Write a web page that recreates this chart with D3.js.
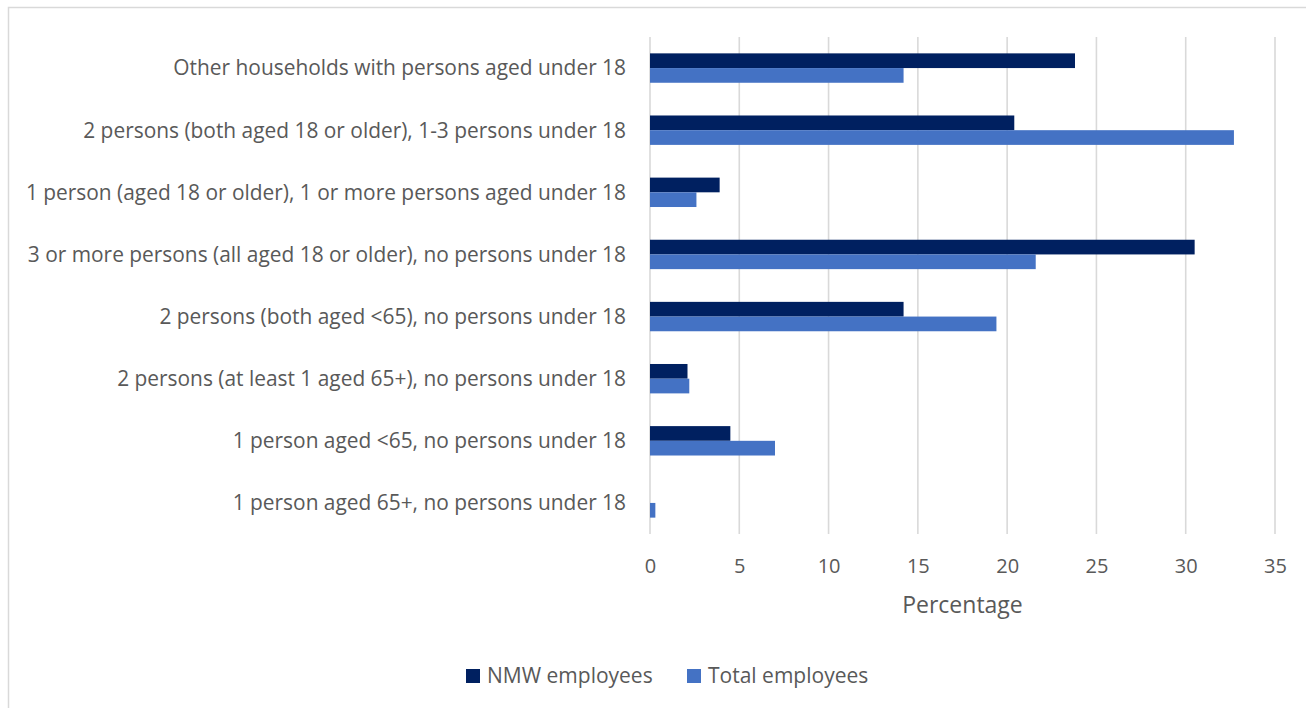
<!DOCTYPE html>
<html>
<head>
<meta charset="utf-8">
<script src="https://cdn.jsdelivr.net/npm/d3@7"></script>
<style>
  html, body { margin: 0; padding: 0; background: #fff; }
  svg { display: block; }
  text { font-family: "Open Sans", "Noto Sans", sans-serif; fill: #595959; }
</style>
</head>
<body>
<svg id="chart" width="1306" height="708"></svg>
<script>
// Household types, top to bottom
const categories = [
  "Other households with persons aged under 18",
  "2 persons (both aged 18 or older), 1-3 persons under 18",
  "1 person (aged 18 or older), 1 or more persons aged under 18",
  "3 or more persons (all aged 18 or older), no persons under 18",
  "2 persons (both aged <65), no persons under 18",
  "2 persons (at least 1 aged 65+), no persons under 18",
  "1 person aged <65, no persons under 18",
  "1 person aged 65+, no persons under 18"
];
const seriesNames = ["NMW employees", "Total employees"];
const nmwValues   = [23.8, 20.4, 3.9, 30.5, 14.2, 2.1, 4.5, 0.0];
const totalValues = [14.2, 32.7, 2.6, 21.6, 19.4, 2.2, 7.0, 0.3];
const xTicks = [0, 5, 10, 15, 20, 25, 30, 35];
const xTitle = "Percentage";
const colors = ["#002060", "#4472C4"];

const svg = d3.select("#chart");

// chart frame
svg.append("rect")
  .attr("x", 8.5).attr("y", 7.5)
  .attr("width", 1320).attr("height", 720)
  .attr("fill", "none").attr("stroke", "#d9d9d9").attr("stroke-width", 1.5);

const plot = { left: 650, right: 1275, top: 37, bottom: 534 };

const x = d3.scaleLinear().domain([0, 35]).range([plot.left, plot.right]);
const y = d3.scaleBand().domain(categories).range([plot.top, plot.bottom]).paddingInner(0).paddingOuter(0);
const barH = 14.7;

// vertical gridlines
svg.append("g").selectAll("line").data(xTicks).join("line")
  .attr("x1", d => x(d)).attr("x2", d => x(d))
  .attr("y1", plot.top).attr("y2", plot.bottom)
  .attr("stroke", "#d9d9d9").attr("stroke-width", 1.6);

// x axis tick labels
const xAxis = d3.axisBottom(x).tickValues(xTicks).tickSize(0).tickPadding(0);
const gx = svg.append("g").attr("transform", `translate(0,${566})`).call(xAxis);
gx.select(".domain").remove();
gx.selectAll("text")
  .attr("dy", "0.35em")
  .style("font-size", "20px")
  .style("font-family", '"Open Sans", sans-serif')
  .attr("fill", "#595959");

// axis title
svg.append("text")
  .attr("x", (plot.left + plot.right) / 2).attr("y", 605)
  .attr("dy", "0.35em")
  .attr("text-anchor", "middle")
  .style("font-size", "23px")
  .text(xTitle);

// category labels
svg.append("g").selectAll("text").data(categories).join("text")
  .attr("x", 626)
  .attr("y", d => y(d) + y.bandwidth() / 2)
  .attr("dy", "0.35em")
  .attr("text-anchor", "end")
  .style("font-size", "20.9px")
  .text(d => d);

// bars
const series = [nmwValues, totalValues];
series.forEach((vals, si) => {
  svg.append("g").selectAll("rect").data(vals).join("rect")
    .attr("x", x(0))
    .attr("y", (d, i) => y(categories[i]) + y.bandwidth() / 2 - barH + si * barH)
    .attr("width", d => x(d) - x(0))
    .attr("height", barH)
    .attr("fill", colors[si]);
});

// legend
const legendItems = [
  { name: seriesNames[0], color: colors[0], x: 466 },
  { name: seriesNames[1], color: colors[1], x: 687 }
];
const lg = svg.append("g");
legendItems.forEach(it => {
  lg.append("rect").attr("x", it.x).attr("y", 669).attr("width", 14).attr("height", 14).attr("fill", it.color);
  lg.append("text").attr("x", it.x + 21).attr("y", 676).attr("dy", "0.35em")
    .style("font-size", "21px").text(it.name);
});
</script>
</body>
</html>
